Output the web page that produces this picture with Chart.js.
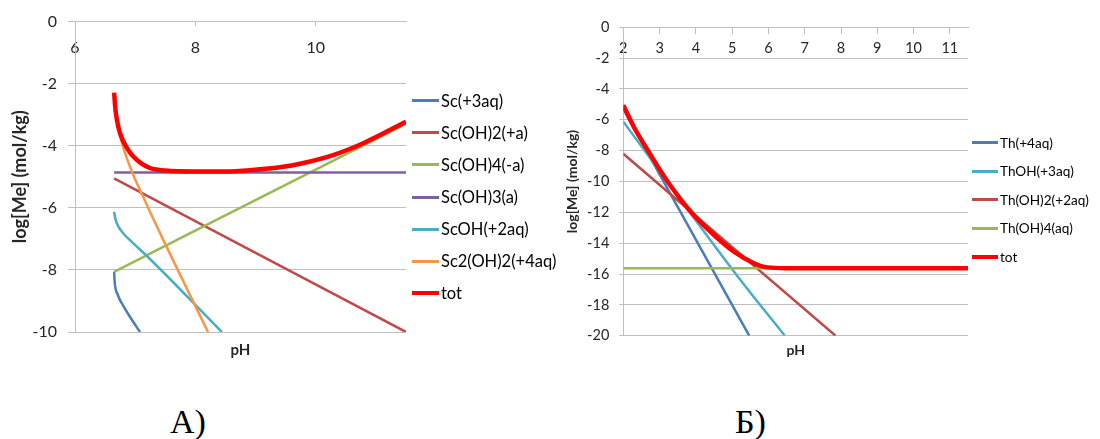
<!DOCTYPE html>
<html>
<head>
<meta charset="utf-8">
<script src="https://cdn.jsdelivr.net/npm/chart.js@4.4.1/dist/chart.umd.min.js"></script>
<style>
  html, body { margin: 0; padding: 0; background: #fff; }
  body { width: 1100px; height: 439px; position: relative; overflow: hidden; font-family: Lato, 'Open Sans', sans-serif; }
  canvas { position: absolute; top: 0; }
  #scChart { left: 0; }
  #thChart { left: 560px; }
  .legend { position: absolute; left: 0; top: 0; color: #000; }
  .legend .item { position: absolute; display: flex; align-items: center; white-space: nowrap; transform: translateY(-50%); }
  .legend .mark { display: inline-block; margin-right: 2px; }
  .caption { position: absolute; top: 405px; font-family: 'Liberation Serif', serif; font-size: 34px; line-height: 34px; color: #000; }
</style>
</head>
<body>
<canvas id="scChart" width="420" height="394"></canvas>
<canvas id="thChart" width="420" height="394"></canvas>
<div class="legend" id="scLegend"></div>
<div class="legend" id="thLegend"></div>
<div class="caption" style="left:170px">А)</div>
<div class="caption" style="left:735px">Б)</div>

<script>
// Chart A - scandium species, [pH, log[Me]]
const scNames = ['Sc(+3aq)', 'Sc(OH)2(+a)', 'Sc(OH)4(-a)', 'Sc(OH)3(a)', 'ScOH(+2aq)', 'Sc2(OH)2(+4aq)', 'tot'];
const sc3aq = [[6.65, -8.06], [6.66, -8.4], [6.71, -8.8], [6.8, -9.15], [6.91, -9.5], [7.08, -10]];
const scOH2 = [[6.65, -5.05], [11.5, -10]];
const scOH4 = [[6.65, -8.06], [11.5, -3.3]];
const scOH3 = [[6.65, -4.86], [11.5, -4.86]];
const scOH = [[6.65, -6.13], [6.67, -6.35], [6.72, -6.6], [6.8, -6.82], [6.9, -7.02], [7.22, -7.6], [8.44, -10]];
const sc2OH2 = [[6.65, -2.35], [6.68, -2.9], [6.72, -3.4], [6.78, -3.9], [6.87, -4.45], [6.97, -4.95], [7.11, -5.55],
                [7.3, -6.35], [7.52, -7.25], [8.21, -10]];
const scTot = [[6.65, -2.29], [6.67, -2.8], [6.7, -3.2], [6.74, -3.55], [6.8, -3.85], [6.88, -4.12], [6.97, -4.35],
               [7.1, -4.57], [7.25, -4.72], [7.5, -4.8], [8.0, -4.83], [8.5, -4.83], [8.91, -4.79], [9.46, -4.68],
               [9.74, -4.58], [10.29, -4.3], [10.79, -3.92], [11.5, -3.23]];
const scTicksX = [6, 11.5, 2];
const scTicksY = [-10, 0, 2];

// Chart B - thorium species
const thNames = ['Th(+4aq)', 'ThOH(+3aq)', 'Th(OH)2(+2aq)', 'Th(OH)4(aq)', 'tot'];
const th4aq = [[2, -5.3], [5.47, -20]];
const thOH = [[2, -6.12], [5.1, -16], [6.45, -20]];
const thOH2 = [[2, -8.2], [7.85, -20]];
const thOH4 = [[2, -15.62], [11.5, -15.62]];
const thTot = [[2, -5.05], [2.3, -6.5], [2.67, -7.96], [3.22, -10.0], [3.86, -11.96], [4.5, -13.47], [5.05, -14.55],
               [5.6, -15.3], [5.97, -15.57], [6.5, -15.62], [11.5, -15.62]];
const thTicksX = [2, 11.5, 1];
const thTicksY = [-20, 0, 2];

const scColors = ['#4a7ebb', '#be4b48', '#98b954', '#7d60a0', '#4bacc6', '#f79646', '#ff0000'];
const thColors = ['#4a7ebb', '#4bacc6', '#be4b48', '#98b954', '#ff0000'];

const gridColor = '#bfbfbf';
const textColor = '#262626';
const font = 'Lato';

function makeDatasets(names, series, colors) {
    return series.map(function(pts, i) {
        const isTot = names[i] === 'tot';
        return {
            label: names[i],
            data: pts.map(p => ({ x: p[0], y: p[1] })),
            borderColor: colors[i],
            borderWidth: isTot ? 4.5 : 2.5,
            pointRadius: 0,
            cubicInterpolationMode: 'monotone',
            order: -i,
            xAxisID: 'x',
            yAxisID: 'y'
        };
    });
}

function makeChart(id, names, series, colors, cfg) {
    const ctx = document.getElementById(id).getContext('2d');
    return new Chart(ctx, {
        type: 'line',
        data: { datasets: makeDatasets(names, series, colors) },
        options: {
            responsive: false,
            animation: false,
            layout: { padding: cfg.padding },
            plugins: { legend: { display: false }, tooltip: { enabled: false } },
            scales: {
                x: {
                    type: 'linear',
                    position: { y: 0 },
                    min: cfg.ticksX[0], max: cfg.ticksX[1],
                    ticks: { stepSize: cfg.ticksX[2], includeBounds: false, padding: cfg.xPad, color: textColor, font: { family: font, size: cfg.tickSize } },
                    grid: { drawOnChartArea: false, tickLength: cfg.xTick, color: gridColor },
                    border: { color: gridColor }
                },
                xt: {
                    type: 'linear',
                    position: 'bottom',
                    min: cfg.ticksX[0], max: cfg.ticksX[1],
                    ticks: { display: false },
                    grid: { display: false },
                    border: { display: false },
                    title: { display: true, text: 'pH', color: textColor, padding: 0, font: { family: font, size: cfg.phSize, weight: 'bold' } },
                    afterFit: function(s) { s.height = cfg.phHeight; }
                },
                y: {
                    min: cfg.ticksY[0], max: cfg.ticksY[1],
                    ticks: { stepSize: cfg.ticksY[2], padding: cfg.yPad, color: textColor, font: { family: font, size: cfg.tickSize } },
                    grid: { tickLength: cfg.yTick, color: gridColor },
                    border: { color: gridColor },
                    title: { display: true, text: 'log[Me] (mol/kg)', color: textColor, padding: { top: cfg.titlePad, bottom: 0 },
                             font: { family: font, size: cfg.titleSize, weight: 'bold' } },
                    afterFit: function(s) { s.width = cfg.yWidth; }
                }
            }
        }
    });
}

function makeLegend(id, names, colors, left, top, step, lineW, size) {
    const box = document.getElementById(id);
    names.forEach(function(name, i) {
        const item = document.createElement('div');
        item.className = 'item';
        item.style.left = left + 'px';
        item.style.top = (top + i * step) + 'px';
        item.style.fontSize = size + 'px';
        const mark = document.createElement('span');
        mark.className = 'mark';
        mark.style.width = lineW + 'px';
        mark.style.height = (name === 'tot' ? 4 : 3) + 'px';
        mark.style.background = colors[i];
        item.appendChild(mark);
        item.appendChild(document.createTextNode(name));
        box.appendChild(item);
    });
}

makeChart('scChart', scNames, [sc3aq, scOH2, scOH4, scOH3, scOH, sc2OH2, scTot], scColors, {
    padding: { left: 0, top: 21.5, right: 14, bottom: 35 },
    ticksX: scTicksX, ticksY: scTicksY,
    tickSize: 16, xPad: 12.5, xTick: 4, yPad: 11, yTick: 7, yWidth: 75,
    phSize: 15, phHeight: 27, titleSize: 18, titlePad: 9
});

makeChart('thChart', thNames, [th4aq, thOH, thOH2, thOH4, thTot], thColors, {
    padding: { left: 0, top: 27.3, right: 12, bottom: 35 },
    ticksX: thTicksX, ticksY: thTicksY,
    tickSize: 14.5, xPad: 6.5, xTick: 6, yPad: 10, yTick: 4, yWidth: 63.3,
    phSize: 14, phHeight: 23.3, titleSize: 14, titlePad: 4
});

makeLegend('scLegend', scNames, scColors, 412, 100.7, 32.1, 27, 16.5);
makeLegend('thLegend', thNames, thColors, 972, 142.7, 28.5, 26, 13.6);
</script>
</body>
</html>
